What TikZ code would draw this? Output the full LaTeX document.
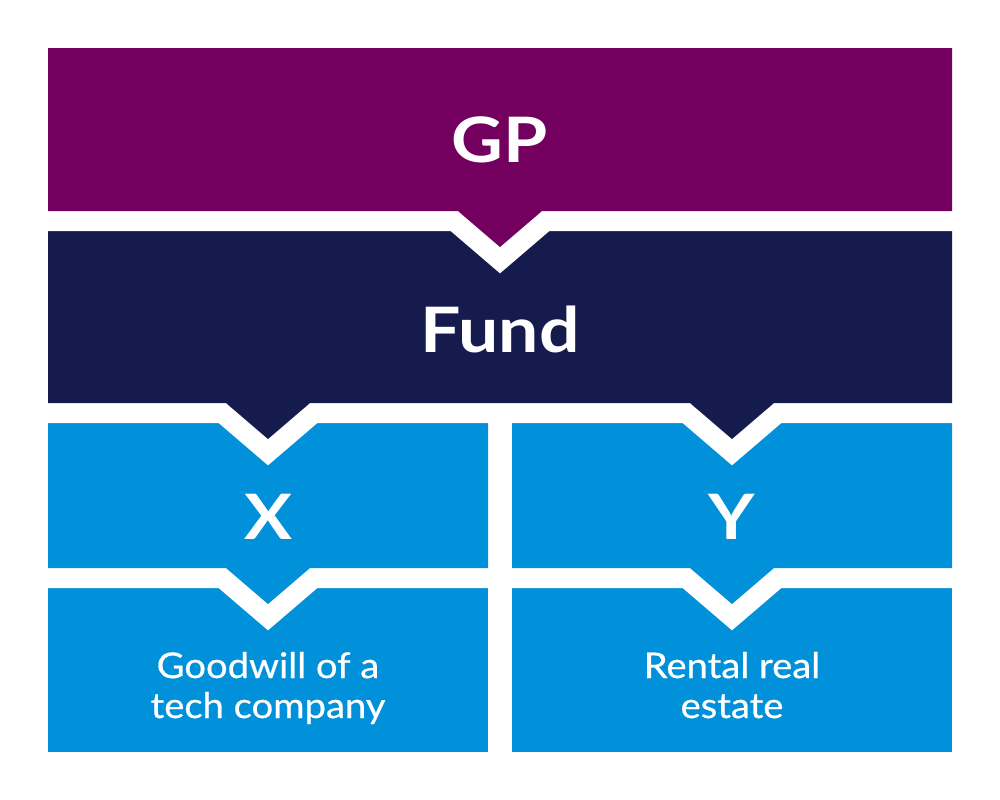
\documentclass[tikz,border=0pt]{standalone}
\usepackage{fontspec}
\setmainfont{Lato}
\newfontfamily\bigfont[FakeStretch=1.14]{Lato Bold}
\newfontfamily\smallfont[FakeStretch=1.08,FakeBold=0.6]{Lato}
\begin{document}
\begin{tikzpicture}[x=0.75pt,y=-0.75pt,
  gap/.style={draw=white,line width=30pt,line join=miter,miter limit=20},
  big/.style={text=white,font=\bigfont\fontsize{47}{47}\selectfont,inner sep=0pt,anchor=base},
  small/.style={text=white,font=\smallfont\fontsize{26.5}{26.5}\selectfont,inner sep=0pt,anchor=base}]
\definecolor{gpc}{HTML}{73005E}
\definecolor{fundc}{HTML}{151B4D}
\definecolor{entc}{HTML}{0091DA}
\useasboundingbox (0,0) rectangle (1000,800);
\fill[white] (0,0) rectangle (1000,800);
% bottom boxes
\fill[entc] (48,580) rectangle (488,752);
\fill[entc] (512,580) rectangle (952,752);
% X and Y boxes
\foreach \l/\c/\r in {48/268/488,512/732/952}{
  \path[gap] (\l,410) -- (\r,410) -- (\r,568) -- (\c+42,568) -- (\c,604) -- (\c-42,568) -- (\l,568) -- cycle;
  \fill[entc] (\l,410) -- (\r,410) -- (\r,568) -- (\c+42,568) -- (\c,604) -- (\c-42,568) -- (\l,568) -- cycle;
}
% Fund
\path[gap] (48,225) -- (952,225) -- (952,403) -- (774,403) -- (732,439) -- (690,403)
  -- (310,403) -- (268,439) -- (226,403) -- (48,403) -- cycle;
\fill[fundc] (48,225) -- (952,225) -- (952,403) -- (774,403) -- (732,439) -- (690,403)
  -- (310,403) -- (268,439) -- (226,403) -- (48,403) -- cycle;
% GP
\path[gap] (48,48) -- (952,48) -- (952,211) -- (542,211) -- (500,247) -- (458,211) -- (48,211) -- cycle;
\fill[gpc] (48,48) -- (952,48) -- (952,211) -- (542,211) -- (500,247) -- (458,211) -- (48,211) -- cycle;
% labels
\node[big] (gp) at (500,162) {GP};
\node[big] (fund) at (500,352) {Fund};
\node[big] (x) at (268,539) {X};
\node[big] (y) at (732,539) {Y};
\node[small] (gw1) at (268,678) {Goodwill of a};
\node[small] (gw2) at (268,718) {tech company};
\node[small] (re1) at (732,678) {Rental real};
\node[small] (re2) at (732,718) {estate};
\end{tikzpicture}
\end{document}
